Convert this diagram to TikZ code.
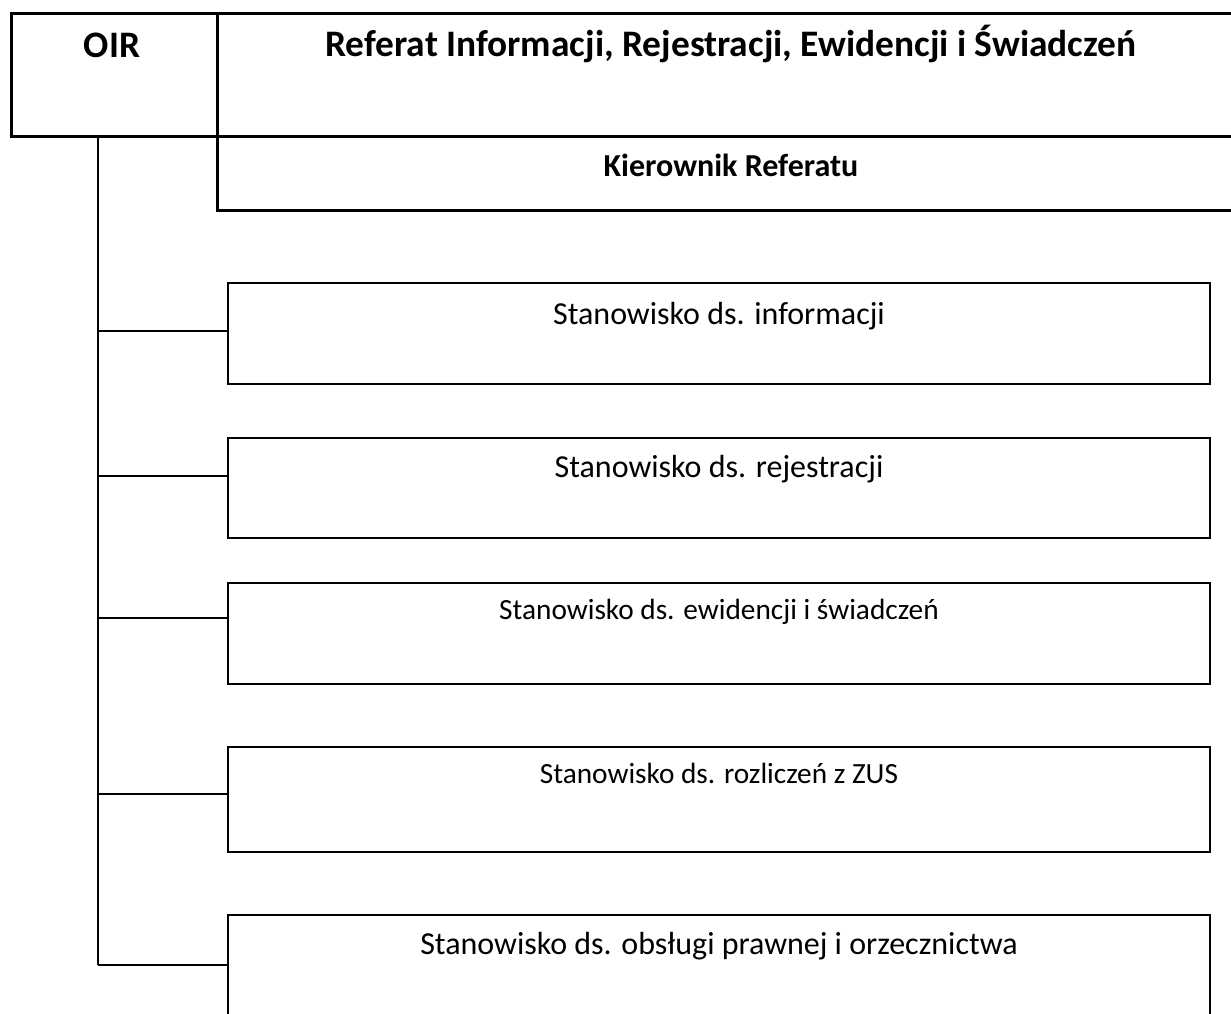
\documentclass[tikz,border=0pt]{standalone}
\usepackage{fontspec}
\setmainfont{Carlito}
\usetikzlibrary{positioning}

\begin{document}
\begin{tikzpicture}[x=1pt,y=-1pt]
		\tikzset{
			headbox/.style={draw, line width=3pt, anchor=north west, inner sep=0pt},
			unitbox/.style={draw, line width=2pt, anchor=north west, inner sep=0pt, minimum width=982pt, minimum height=101pt},
			link/.style={line width=2pt},
			headtext/.style={font=\bfseries\fontsize{37.4}{45}\selectfont, anchor=base},
			chieftext/.style={font=\bfseries\fontsize{32}{38}\selectfont, anchor=base},
			bigtext/.style={font=\fontsize{32}{38}\selectfont, anchor=base},
			smalltext/.style={font=\fontsize{29.3}{35}\selectfont, anchor=base}
		}
		\useasboundingbox (0,0) rectangle (1231,1013);
		
		% Header
		\node[headbox, minimum width=206pt, minimum height=123pt] (oir) at (10,12) {};
		\node[headbox, minimum width=1030pt, minimum height=123pt] (referat) at (216,12) {};
		\node[headbox, minimum width=1030pt, minimum height=74pt] (chief) at (216,135) {};
		
		\node[headtext] (oirname) at (112,57) {OIR};
		\node[headtext] (refname) at (731,56) {Referat Informacji, Rejestracji, Ewidencji i Świadczeń};
		\node[chieftext] (chiefname) at (731,176) {Kierownik Referatu};
		
		% Posts
		\node[unitbox] (post1) at (227,282) {};
		\node[unitbox, minimum height=100pt] (post2) at (227,437) {};
		\node[unitbox] (post3) at (227,582) {};
		\node[unitbox, minimum height=105pt] (post4) at (227,746) {};
		\node[unitbox, minimum height=120pt] (post5) at (227,914) {};
		
		\node[bigtext] (name1) at ([yshift=-42pt]post1.north) {Stanowisko ds. informacji};
		\node[bigtext] (name2) at ([yshift=-40pt]post2.north) {Stanowisko ds. rejestracji};
		\node[smalltext] (name3) at ([yshift=-37pt]post3.north) {Stanowisko ds. ewidencji i świadczeń};
		\node[smalltext] (name4) at ([yshift=-37pt]post4.north) {Stanowisko ds. rozliczeń z ZUS};
		\node[bigtext] (name5) at ([yshift=-40pt]post5.north) {Stanowisko ds. obsługi prawnej i orzecznictwa};
		
		% Tree lines
		\coordinate (j1) at (98,331);
		\coordinate (j2) at (98,476);
		\coordinate (j3) at (98,618);
		\coordinate (j4) at (98,794);
		\coordinate (j5) at (98,965);
		
		\draw[link] (oir.south -| j1) -- (j5);
		\draw[link] (j1) -- (j1 -| post1.west);
		\draw[link] (j2) -- (j2 -| post2.west);
		\draw[link] (j3) -- (j3 -| post3.west);
		\draw[link] (j4) -- (j4 -| post4.west);
		\draw[link] (j5) -- (j5 -| post5.west);
		
	\end{tikzpicture}
\end{document}
